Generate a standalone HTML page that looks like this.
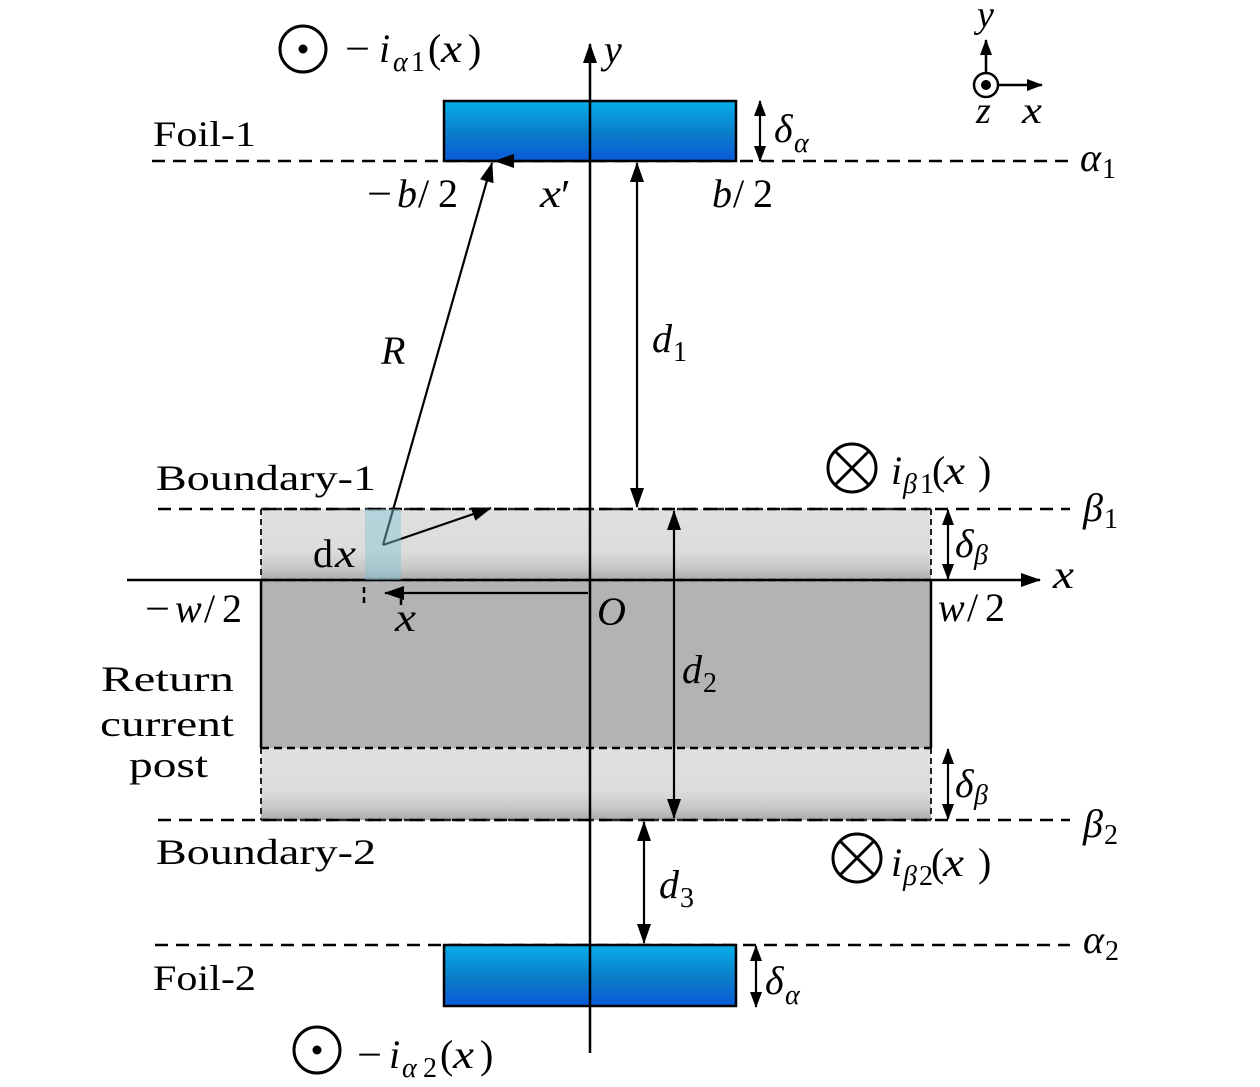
<!DOCTYPE html>
<html><head><meta charset="utf-8">
<style>
html,body{margin:0;padding:0;background:#fff;}
svg{display:block;}
text{font-family:"Liberation Serif","DejaVu Serif",serif;fill:#000;}
.it{font-style:italic;}
</style></head><body>
<svg width="1260" height="1087" viewBox="0 0 1260 1087" xmlns="http://www.w3.org/2000/svg">
<defs>
<linearGradient id="blue" x1="0" y1="0" x2="0" y2="1">
<stop offset="0" stop-color="#08aeea"/>
<stop offset="0.55" stop-color="#0a7cc8"/>
<stop offset="1" stop-color="#0a5ad8"/>
</linearGradient>
<linearGradient id="gray" x1="0" y1="0" x2="0" y2="1">
<stop offset="0" stop-color="#e1e0e0"/>
<stop offset="0.6" stop-color="#dcdcdc"/>
<stop offset="0.85" stop-color="#c6c6c6"/>
<stop offset="1" stop-color="#a9a9a9"/>
</linearGradient>
<marker id="ah" markerUnits="userSpaceOnUse" markerWidth="20" markerHeight="14" refX="19" refY="7" orient="auto-start-reverse">
<path d="M0,0 L20,7 L0,14 z" fill="#000"/>
</marker>
<marker id="ahs" markerUnits="userSpaceOnUse" markerWidth="16" markerHeight="12" refX="15" refY="6" orient="auto-start-reverse">
<path d="M0,0 L16,6 L0,12 z" fill="#000"/>
</marker>
</defs>

<!-- Post -->
<rect x="261" y="509" width="670" height="71" fill="url(#gray)"/>
<rect x="261" y="580" width="670" height="168" fill="#b3b3b3"/>
<rect x="261" y="748" width="670" height="72" fill="url(#gray)"/>
<g stroke="#222" stroke-width="2" stroke-dasharray="6 4" fill="none">
<line x1="261" y1="509" x2="261" y2="580"/>
<line x1="931" y1="509" x2="931" y2="580"/>
<line x1="261" y1="748" x2="261" y2="820"/>
<line x1="931" y1="748" x2="931" y2="820"/>
<line x1="261" y1="748" x2="931" y2="748" stroke="#000" stroke-width="2.5" stroke-dasharray="8 5"/>
<line x1="261" y1="509" x2="931" y2="509" stroke-width="2.5" stroke-dasharray="8 5"/>
<line x1="261" y1="820" x2="931" y2="820" stroke-width="2.5" stroke-dasharray="8 5"/>
<line x1="261" y1="580" x2="931" y2="580" stroke-width="2.5" stroke-dasharray="8 5"/>
</g>
<g stroke="#000" stroke-width="2.5">
<line x1="261" y1="580" x2="261" y2="748"/>
<line x1="931" y1="580" x2="931" y2="748"/>
</g>

<!-- dashed reference lines -->
<g stroke="#000" stroke-width="2.5" stroke-dasharray="13 8" fill="none">
<line x1="152" y1="161" x2="1068" y2="161"/>
<line x1="155" y1="945" x2="1070" y2="945"/>
<line x1="158" y1="509" x2="1070" y2="509"/>
<line x1="158" y1="820" x2="1070" y2="820"/>
</g>

<!-- Foils -->
<rect x="444" y="101" width="292" height="60" fill="url(#blue)" stroke="#000" stroke-width="2.5"/>
<rect x="444" y="945" width="292" height="61" fill="url(#blue)" stroke="#000" stroke-width="2.5"/>

<!-- axes -->
<line x1="127" y1="580" x2="1040" y2="580" stroke="#000" stroke-width="2.5" marker-end="url(#ah)"/>
<line x1="590" y1="1053" x2="590" y2="44" stroke="#000" stroke-width="2.5" marker-end="url(#ah)"/>

<!-- arrows -->
<g stroke="#000" stroke-width="2.2" fill="none">
<line x1="383" y1="545" x2="492" y2="163" marker-end="url(#ah)"/>
<line x1="383" y1="545" x2="491" y2="508" marker-end="url(#ah)"/>
<line x1="590" y1="161" x2="495" y2="161" marker-end="url(#ah)"/>
<line x1="588" y1="593" x2="385" y2="593" marker-end="url(#ah)"/>
<line x1="637" y1="163" x2="637" y2="507" marker-start="url(#ah)" marker-end="url(#ah)"/>
<line x1="674" y1="511" x2="674" y2="818" marker-start="url(#ah)" marker-end="url(#ah)"/>
<line x1="644" y1="822" x2="644" y2="943" marker-start="url(#ah)" marker-end="url(#ah)"/>
<line x1="760" y1="101" x2="760" y2="161" marker-start="url(#ahs)" marker-end="url(#ahs)"/>
<line x1="756" y1="946" x2="756" y2="1007" marker-start="url(#ahs)" marker-end="url(#ahs)"/>
<line x1="948" y1="510" x2="948" y2="579" marker-start="url(#ahs)" marker-end="url(#ahs)"/>
<line x1="948" y1="749" x2="948" y2="819" marker-start="url(#ahs)" marker-end="url(#ahs)"/>
</g>
<g stroke="#000" stroke-width="2.5" stroke-dasharray="6 4">
<line x1="364" y1="587" x2="364" y2="607"/>
<line x1="401" y1="599" x2="401" y2="607"/>
</g>

<!-- dx band -->
<rect x="365" y="509" width="36" height="71" fill="rgb(130,195,215)" fill-opacity="0.45"/>

<!-- coordinate icon -->
<circle cx="986" cy="85" r="12" fill="none" stroke="#000" stroke-width="2.5"/>
<circle cx="986" cy="85" r="5" fill="#000"/>
<line x1="986" y1="73" x2="986" y2="40" stroke="#000" stroke-width="2.5" marker-end="url(#ahs)"/>
<line x1="998" y1="85" x2="1042" y2="85" stroke="#000" stroke-width="2.5" marker-end="url(#ahs)"/>

<!-- current symbols -->
<circle cx="303" cy="49" r="23" fill="none" stroke="#000" stroke-width="3"/>
<circle cx="303" cy="49" r="4.5" fill="#000"/>
<circle cx="317" cy="1050" r="23" fill="none" stroke="#000" stroke-width="3"/>
<circle cx="317" cy="1050" r="4.5" fill="#000"/>
<g stroke="#000" stroke-width="3" fill="none">
<circle cx="852" cy="468" r="24"/>
<line x1="835" y1="451" x2="869" y2="485"/>
<line x1="869" y1="451" x2="835" y2="485"/>
<circle cx="857" cy="858" r="24"/>
<line x1="840" y1="841" x2="874" y2="875"/>
<line x1="874" y1="841" x2="840" y2="875"/>
</g>

<!-- roman labels -->
<g font-size="36">
<text x="153" y="146" textLength="103" lengthAdjust="spacingAndGlyphs">Foil-1</text>
<text x="153" y="990" textLength="103" lengthAdjust="spacingAndGlyphs">Foil-2</text>
<text x="156" y="490" textLength="220" lengthAdjust="spacingAndGlyphs">Boundary-1</text>
<text x="156" y="864" textLength="220" lengthAdjust="spacingAndGlyphs">Boundary-2</text>
<text x="101" y="691" textLength="133" lengthAdjust="spacingAndGlyphs">Return</text>
<text x="100" y="736" textLength="134" lengthAdjust="spacingAndGlyphs">current</text>
<text x="129" y="777" textLength="79" lengthAdjust="spacingAndGlyphs">post</text>
</g>

<!-- math labels -->
<g font-size="40">
<!-- top current -->
<text x="345" y="62" textLength="25" lengthAdjust="spacingAndGlyphs">−</text>
<text x="379" y="62" class="it">i</text>
<text x="393" y="71" font-size="28" class="it">α</text>
<text x="411" y="71" font-size="28">1</text>
<text x="428" y="62">(</text>
<text x="441" y="62" class="it" textLength="21" lengthAdjust="spacingAndGlyphs">x</text>
<text x="468" y="62">)</text>
<!-- bottom current -->
<text x="357" y="1068" textLength="25" lengthAdjust="spacingAndGlyphs">−</text>
<text x="389" y="1068" class="it">i</text>
<text x="402" y="1077" font-size="28" class="it">α</text>
<text x="423" y="1077" font-size="28">2</text>
<text x="440" y="1068">(</text>
<text x="453" y="1068" class="it" textLength="21" lengthAdjust="spacingAndGlyphs">x</text>
<text x="480" y="1068">)</text>
<!-- beta1 current -->
<text x="891" y="484" class="it">i</text>
<text x="903" y="493" font-size="28" class="it">β</text>
<text x="920" y="493" font-size="28">1</text>
<text x="932" y="484">(</text>
<text x="944" y="484" class="it" textLength="21" lengthAdjust="spacingAndGlyphs">x</text>
<text x="978" y="484">)</text>
<!-- beta2 current -->
<text x="891" y="876" class="it">i</text>
<text x="903" y="885" font-size="28" class="it">β</text>
<text x="919" y="885" font-size="28">2</text>
<text x="931" y="876">(</text>
<text x="943" y="876" class="it" textLength="21" lengthAdjust="spacingAndGlyphs">x</text>
<text x="978" y="876">)</text>

<!-- axis labels -->
<text x="604" y="63" class="it">y</text>
<text x="1053" y="588" class="it" textLength="21" lengthAdjust="spacingAndGlyphs">x</text>
<text x="977" y="27" class="it" font-size="38">y</text>
<text x="976" y="123" class="it" font-size="38">z</text>
<text x="1022" y="123" class="it" font-size="38" textLength="20" lengthAdjust="spacingAndGlyphs">x</text>

<!-- foil-1 dims -->
<text x="367" y="207" textLength="25" lengthAdjust="spacingAndGlyphs">−</text>
<text x="397" y="207" class="it">b</text>
<text x="418" y="207">/</text>
<text x="438" y="207">2</text>
<text x="540" y="207" class="it" textLength="21" lengthAdjust="spacingAndGlyphs">x</text>
<text x="561" y="210" font-size="44">′</text>
<text x="712" y="207" class="it">b</text>
<text x="733" y="207">/</text>
<text x="753" y="207">2</text>

<text x="381" y="364" class="it">R</text>
<text x="652" y="352" class="it">d</text>
<text x="673" y="361" font-size="28">1</text>
<text x="682" y="683" class="it">d</text>
<text x="703" y="692" font-size="28">2</text>
<text x="659" y="898" class="it">d</text>
<text x="680" y="907" font-size="28">3</text>

<text x="313" y="567">d</text>
<text x="335" y="567" class="it" textLength="21" lengthAdjust="spacingAndGlyphs">x</text>

<text x="145" y="622" textLength="25" lengthAdjust="spacingAndGlyphs">−</text>
<text x="175" y="622" class="it">w</text>
<text x="204" y="622">/</text>
<text x="222" y="622">2</text>
<text x="395" y="631" class="it" textLength="21" lengthAdjust="spacingAndGlyphs">x</text>
<text x="597" y="625" class="it">O</text>
<text x="938" y="621" class="it">w</text>
<text x="967" y="621">/</text>
<text x="985" y="621">2</text>

<!-- deltas -->
<text x="774" y="142" class="it">δ</text>
<text x="794" y="152" font-size="28" class="it">α</text>
<text x="765" y="994" class="it">δ</text>
<text x="785" y="1004" font-size="28" class="it">α</text>
<text x="955" y="557" class="it">δ</text>
<text x="974" y="564" font-size="28" class="it">β</text>
<text x="955" y="797" class="it">δ</text>
<text x="974" y="804" font-size="28" class="it">β</text>

<!-- line labels -->
<text x="1080" y="171" class="it">α</text>
<text x="1102" y="178" font-size="28">1</text>
<text x="1083" y="953" class="it">α</text>
<text x="1105" y="960" font-size="28">2</text>
<text x="1083" y="521" class="it">β</text>
<text x="1104" y="528" font-size="28">1</text>
<text x="1083" y="837" class="it">β</text>
<text x="1104" y="844" font-size="28">2</text>
</g>
</svg>
</body></html>
